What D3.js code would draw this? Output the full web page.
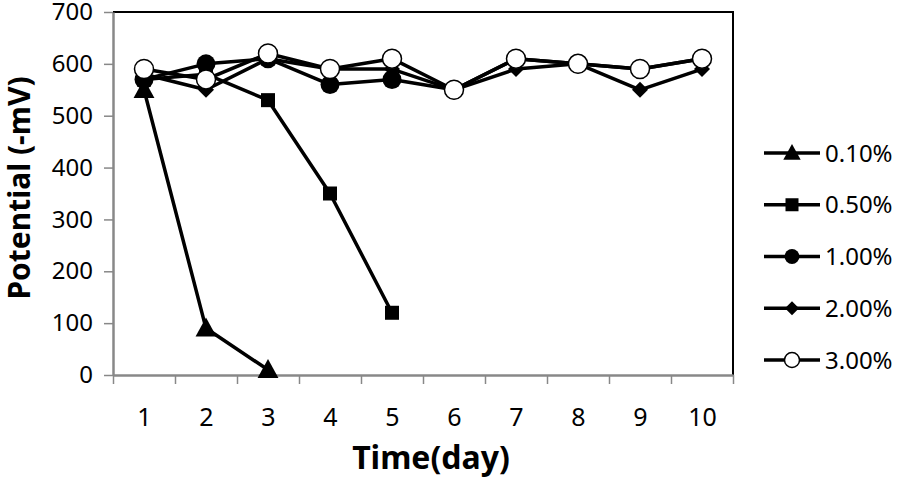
<!DOCTYPE html>
<html>
<head>
<meta charset="utf-8">
<script src="https://cdn.jsdelivr.net/npm/d3@7"></script>
<style>
  body { margin: 0; background: #fff; }
  svg { display: block; font-family: "Noto Sans", sans-serif; }
</style>
</head>
<body>
<svg id="chart" width="898" height="482"></svg>
<script>
// data
const days = [1, 2, 3, 4, 5, 6, 7, 8, 9, 10];
const yTicks = [0, 100, 200, 300, 400, 500, 600, 700];
const seriesNames = ["0.10%", "0.50%", "1.00%", "2.00%", "3.00%"];
const markers = ["triangle", "square", "circle", "diamond", "open"];
const c010 = [550, 90, 10];
const c050 = [570, 580, 530, 350, 120];
const c100 = [570, 600, 610, 560, 570, 550, 610, 600, 590, 610];
const c200 = [580, 550, 610, 590, 590, 550, 590, 600, 550, 590];
const c300 = [590, 570, 620, 590, 610, 550, 610, 600, 590, 610];
const values = [c010, c050, c100, c200, c300];

const svg = d3.select("#chart");
const plotL = 113, plotR = 733, plotT = 12, plotB = 375;

const x = d3.scaleLinear().domain([0.5, 10.5]).range([plotL, plotR]);
const y = d3.scaleLinear().domain([0, 700]).range([plotB, plotT]);

// frame: top and right black
svg.append("path")
  .attr("d", `M${plotL},${plotT}H${plotR}V${plotB}`)
  .attr("fill", "none").attr("stroke", "#000").attr("stroke-width", 2);

// y axis
const gy = svg.append("g").attr("transform", `translate(${plotL},0)`)
  .call(d3.axisLeft(y).tickValues(yTicks).tickSize(9).tickPadding(11).tickSizeOuter(0));
gy.select(".domain").attr("stroke", "#888").attr("stroke-width", 2.5);
gy.selectAll(".tick line").attr("stroke", "#888").attr("stroke-width", 1.5);
gy.selectAll(".tick text").attr("font-size", 24).attr("fill", "#000")
  .attr("font-family", "Noto Sans");

// x axis: ticks at category boundaries, labels at centres
const bounds = d3.range(0.5, 11, 1);
const gx = svg.append("g").attr("transform", `translate(0,${plotB})`)
  .call(d3.axisBottom(x).tickValues(bounds).tickFormat("").tickSize(9).tickSizeOuter(0));
gx.select(".domain").attr("stroke", "#888").attr("stroke-width", 2.5);
gx.selectAll(".tick line").attr("stroke", "#888").attr("stroke-width", 1.5);

const gxl = svg.append("g").attr("transform", `translate(0,${plotB})`)
  .call(d3.axisBottom(x).tickValues(days).tickFormat(d3.format("d")).tickSize(0).tickPadding(0));
gxl.select(".domain").remove();
gxl.selectAll(".tick text").attr("font-size", 25).attr("fill", "#000")
  .attr("font-family", "Noto Sans").attr("dy", null).attr("y", 51);

// axis titles
svg.append("text")
  .attr("x", 431).attr("y", 469)
  .attr("text-anchor", "middle")
  .attr("font-size", 32).attr("font-weight", "bold")
  .text("Time(day)");

svg.append("text")
  .attr("transform", `translate(30,188) rotate(-90)`)
  .attr("text-anchor", "middle")
  .attr("font-size", 30).attr("font-weight", "bold")
  .text("Potential (-mV)");

function drawMarker(g, type, cx, cy, s) {
  if (type === "triangle") {
    const h = s * 1.0;
    g.append("path")
      .attr("d", `M${cx},${cy - h * 0.6}L${cx + h * 0.58},${cy + h * 0.45}L${cx - h * 0.58},${cy + h * 0.45}Z`)
      .attr("fill", "#000");
  } else if (type === "square") {
    g.append("rect").attr("x", cx - s / 2).attr("y", cy - s / 2)
      .attr("width", s).attr("height", s).attr("fill", "#000");
  } else if (type === "circle") {
    g.append("circle").attr("cx", cx).attr("cy", cy).attr("r", s / 2).attr("fill", "#000");
  } else if (type === "diamond") {
    const r = s / 2;
    g.append("path")
      .attr("d", `M${cx},${cy - r}L${cx + r},${cy}L${cx},${cy + r}L${cx - r},${cy}Z`)
      .attr("fill", "#000");
  } else {
    g.append("circle").attr("cx", cx).attr("cy", cy).attr("r", s / 2)
      .attr("fill", "#fff").attr("stroke", "#000").attr("stroke-width", 1.5);
  }
}

const sizes = { triangle: 18, square: 14, circle: 19, diamond: 16, open: 19 };
const line = d3.line().x((d, i) => x(days[i])).y(d => y(d));

values.forEach((vals, k) => {
  const g = svg.append("g");
  g.append("path").attr("d", line(vals))
    .attr("fill", "none").attr("stroke", "#000").attr("stroke-width", 3.5)
    .attr("stroke-linejoin", "round");
  vals.forEach((v, i) => drawMarker(g, markers[k], x(days[i]), y(v), sizes[markers[k]]));
});

// legend
const legendY = d3.scalePoint().domain(seriesNames).range([153, 360]);
const lsizes = { triangle: 15, square: 13, circle: 15, diamond: 14, open: 15 };
seriesNames.forEach((name, k) => {
  const g = svg.append("g");
  const ly = legendY(name);
  g.append("line").attr("x1", 764).attr("x2", 820).attr("y1", ly).attr("y2", ly)
    .attr("stroke", "#000").attr("stroke-width", 3.5);
  drawMarker(g, markers[k], 792, ly, lsizes[markers[k]]);
  g.append("text").attr("x", 825).attr("y", ly + 8.5)
    .attr("font-size", 24).text(name);
});
</script>
</body>
</html>
